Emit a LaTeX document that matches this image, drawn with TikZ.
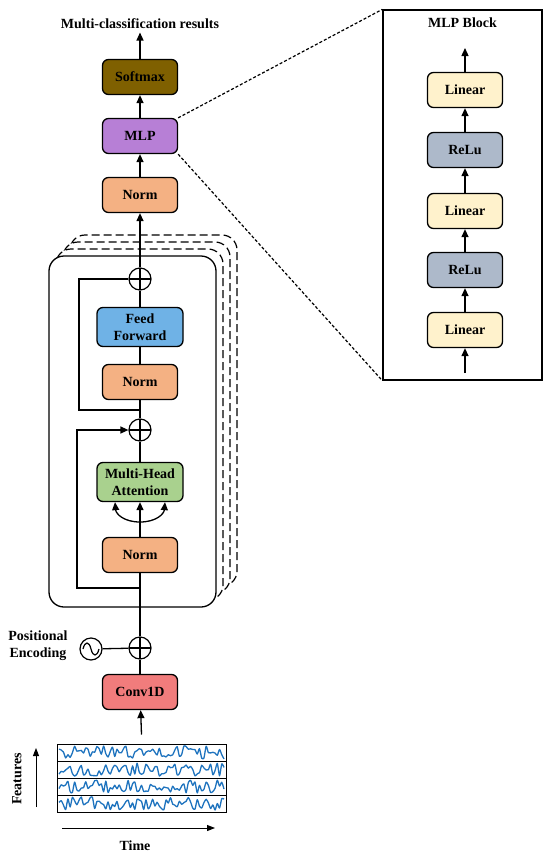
\documentclass[tikz,border=0pt]{standalone}
\usepackage{fontspec}
\setmainfont{Liberation Serif}
\usetikzlibrary{arrows.meta,calc,positioning}
\definecolor{softmaxcol}{RGB}{127,96,0}
\definecolor{mlpcol}{RGB}{183,127,214}
\definecolor{normcol}{RGB}{244,177,131}
\definecolor{ffcol}{RGB}{111,178,230}
\definecolor{mhacol}{RGB}{169,209,142}
\definecolor{convcol}{RGB}{241,124,124}
\definecolor{lincol}{RGB}{255,242,204}
\definecolor{relucol}{RGB}{173,185,202}
\definecolor{wavecol}{RGB}{30,115,190}
\tikzset{
  blk/.style={draw, line width=1.3pt, rounded corners=6pt, minimum width=75pt,
    minimum height=35pt, inner sep=2pt, align=center},
  wideblk/.style={blk, minimum width=86pt, minimum height=39pt},
  addop/.style={circle, draw, line width=1.2pt, minimum size=22pt, inner sep=0pt,
    path picture={\draw[line width=1.2pt] (path picture bounding box.north) -- (path picture bounding box.south)
      (path picture bounding box.west) -- (path picture bounding box.east);}},
  ln/.style={line width=1.3pt},
  arr/.style={line width=1.3pt, -{Triangle[length=8pt,width=7pt]}},
  dotline/.style={line width=1.2pt, dash pattern=on 3pt off 2pt},
}

\begin{document}
\begin{tikzpicture}[x=1pt,y=-1pt,font=\fontsize{14}{17}\selectfont\bfseries]
\useasboundingbox (0,0) rectangle (550,857);
% head
\node (result) at (140,24) {Multi-classification results};
\node[blk, fill=softmaxcol] (softmax) at (140,77) {Softmax};
\node[blk, fill=mlpcol] (mlp) at (140,136) {MLP};
\node[blk, fill=normcol] (norm3) at (140,195) {Norm};
\draw[arr] (softmax) -- (result);
\draw[arr] (mlp) -- (softmax);
\draw[arr] (norm3) -- (mlp);
% encoder stack
\foreach \k in {3,2,1}
  \draw[line width=1.2pt, dash pattern=on 8pt off 4pt, fill=white, rounded corners=15pt]
    (49+7*\k,256-7*\k) rectangle (216+7*\k,607-7*\k);
\draw[ln, fill=white, rounded corners=15pt] (49,256) rectangle (216,607);
\node[addop] (add2) at (140,279) {};
\node[wideblk, fill=ffcol] (ff) at (140,327) {Feed\\Forward};
\node[blk, fill=normcol] (norm2) at (140,382) {Norm};
\node[addop] (add1) at (140,430) {};
\node[wideblk, fill=mhacol] (mha) at (140,482) {Multi-Head\\Attention};
\node[blk, fill=normcol] (norm1) at (140,555) {Norm};
\coordinate (split1) at (140,588);
\coordinate (split2) at (140,410);
\coordinate (att) at (140,522);
\draw[arr] (norm1) -- (mha);
\draw[arr] (att) .. controls (124,522) and (116,514) .. ($(mha.south)+(-25,0)$);
\draw[arr] (att) .. controls (156,522) and (164,514) .. ($(mha.south)+(25,0)$);
\draw[ln] (mha) -- (add1) -- (norm2) -- (ff) -- (add2);
\draw[arr] (add2) -- (norm3);
\draw[arr] (split1) -- ++(-63,0) |- (add1.west);
\draw[ln] (split2) -- ++(-61,0) |- (add2.west);
% input
\node[addop] (pe) at (140,648) {};
\node[circle, draw, line width=1.2pt, minimum size=22pt, inner sep=0pt] (wave) at (91,649) {};
\draw[line width=1.2pt] ($(wave.center)+(-8,0)$) .. controls ($(wave.center)+(-6,-8)$) and ($(wave.center)+(-2,-8)$) .. (wave.center)
  .. controls ($(wave.center)+(2,8)$) and ($(wave.center)+(6,8)$) .. ($(wave.center)+(8,0)$);
\node[align=center] (petext) at (38,646) {Positional\\Encoding};
\node[blk, fill=convcol] (conv) at (140,692) {Conv1D};
\draw[ln] (wave) -- (pe);
\draw[ln] (conv) -- (pe) -- (norm1);
% signals
\node[draw, line width=1pt, minimum width=169pt, minimum height=68pt, inner sep=0pt] (sigbox) at (141.5,778) {};
\foreach \r in {761,778,795}
  \draw[line width=1pt] (57,\r) -- (226,\r);
\pgfmathsetseed{23}
\foreach \r in {752.5,769.5,786.5,803.5}
  \draw[wavecol, line width=1.3pt, line join=round] plot[smooth, tension=0.4, domain=59:224, samples=75, variable=\t] (\t,{\r+6.5*rand});
\coordinate (sig) at ($(sigbox.north)+(0,-9)$);
\draw[arr] (sig) -- (conv);
\draw[line width=1pt, -{Triangle[length=8pt,width=6pt]}] (36,807) -- (36,748);
\node[rotate=90] (feat) at (17,779) {Features};
\draw[line width=1pt, -{Triangle[length=8pt,width=6pt]}] (62,828) -- (215,828);
\node (time) at (135,846) {Time};
% MLP block
\node[draw, line width=1.3pt, minimum width=159pt, minimum height=370pt, inner sep=0pt] (mlpblock) at (462.5,195) {};
\node (mlptitle) at (462.5,23) {MLP Block};
\node[blk, fill=lincol] (lin3) at (465,90) {Linear};
\node[blk, fill=relucol] (relu2) at (465,150) {ReLu};
\node[blk, fill=lincol] (lin2) at (465,211) {Linear};
\node[blk, fill=relucol] (relu1) at (465,270) {ReLu};
\node[blk, fill=lincol] (lin1) at (465,330) {Linear};
\coordinate (mlpin) at (465,373);
\coordinate (mlpout) at (465,48);
\draw[arr] (mlpin) -- (lin1);
\draw[arr] (lin1) -- (relu1);
\draw[arr] (relu1) -- (lin2);
\draw[arr] (lin2) -- (relu2);
\draw[arr] (relu2) -- (lin3);
\draw[arr] (lin3) -- (mlpout);
\draw[dotline] (mlp.north east) -- (mlpblock.north west);
\draw[dotline] (mlp.south east) -- (mlpblock.south west);
\end{tikzpicture}
\end{document}
